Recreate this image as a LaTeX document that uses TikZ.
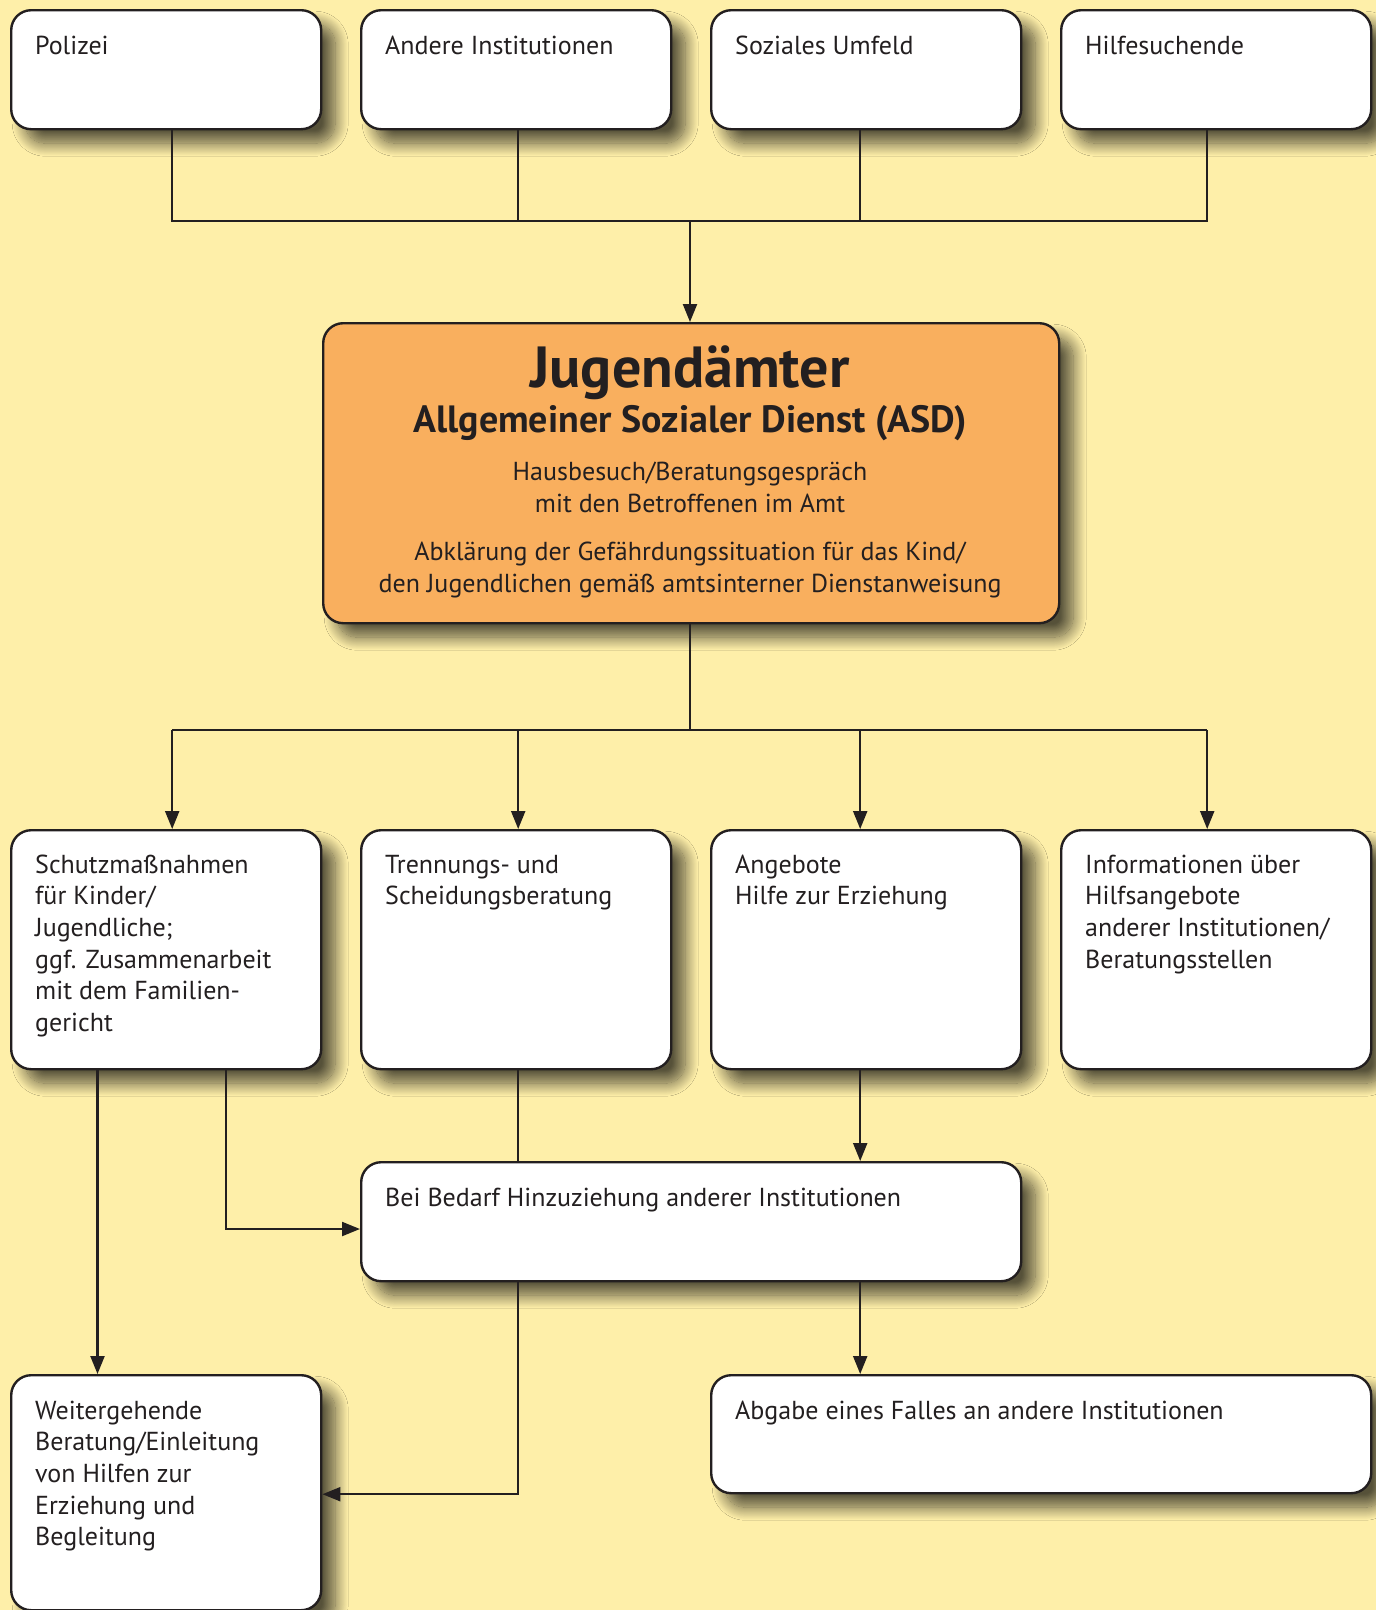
\documentclass[tikz,border=0pt]{standalone}
\usepackage{fontspec}
\setmainfont{PT Sans}
\usetikzlibrary{arrows.meta,shadows.blur,calc}
\definecolor{bgyellow}{HTML}{FEEFA9}
\definecolor{asdorange}{HTML}{F9AF5E}
\definecolor{ink}{HTML}{231F20}
% multi-line texts, aligned on the baseline of their first line
\newcommand\txtlines[1]{\begin{tabular}[t]{@{}l@{}}#1\end{tabular}}
\newcommand\ctrlines[1]{\begin{tabular}[t]{@{}c@{}}#1\end{tabular}}

\begin{document}
\begin{tikzpicture}[x=1pt,y=-1pt,
  card/.style={draw=ink, line width=2.4pt, fill=white, rounded corners=20pt,
    anchor=north west, inner sep=0pt,
    blur shadow={shadow xshift=14pt, shadow yshift=-14pt, shadow blur radius=13pt,
      shadow blur steps=20, shadow opacity=66}},
  boxtext/.style={anchor=base west, inner sep=0pt, text=ink,
    font=\fontsize{26}{31.7}\selectfont},
  midtext/.style={anchor=base, inner sep=0pt, text=ink,
    font=\fontsize{26}{31.5}\selectfont},
  conn/.style={draw=ink, line width=2.2pt},
  arr/.style={conn, -{Triangle[length=18pt,width=14pt]}},
]
\fill[bgyellow] (0,0) rectangle (1376,1610);
\useasboundingbox (0,0) rectangle (1376,1610);

% sources of a report
\node[card, minimum width=310pt, minimum height=119pt] (polizei) at (10,9) {};
\node[card, minimum width=310pt, minimum height=119pt] (andere) at (360,9) {};
\node[card, minimum width=310pt, minimum height=119pt] (umfeld) at (710,9) {};
\node[card, minimum width=310pt, minimum height=119pt] (hilfe) at (1060,9) {};
\node[boxtext] (tPolizei) at (35,54.5) {Polizei};
\node[boxtext] (tAndere) at (385,54.5) {Andere Institutionen};
\node[boxtext] (tUmfeld) at (735,54.5) {Soziales Umfeld};
\node[boxtext] (tHilfe) at (1085,54.5) {Hilfesuchende};

% youth welfare office
\node[card, fill=asdorange, minimum width=736pt, minimum height=300pt] (amt) at (322,322) {};
\node[anchor=base, inner sep=0pt, text=ink, font=\bfseries\fontsize{58}{62}\selectfont] (tAmt) at (690,387) {Jugendämter};
\node[anchor=base, inner sep=0pt, text=ink, font=\bfseries\fontsize{38}{42}\selectfont] (tAsd) at (690,432) {Allgemeiner Sozialer Dienst (ASD)};
\node[midtext] (tBesuch) at (690,480.5) {\ctrlines{Hausbesuch/Beratungsgespräch\\ mit den Betroffenen im Amt}};
\node[midtext] (tKlaer) at (690,560.7) {\ctrlines{Abklärung der Gefährdungssituation für das Kind/\\ den Jugendlichen gemäß amtsinterner Dienstanweisung}};

% measures
\node[card, minimum width=310pt, minimum height=239pt] (schutz) at (10,829) {};
\node[card, minimum width=310pt, minimum height=239pt] (trennung) at (360,829) {};
\node[card, minimum width=310pt, minimum height=239pt] (angebote) at (710,829) {};
\node[card, minimum width=310pt, minimum height=239pt] (info) at (1060,829) {};
\node[boxtext] (tSchutz) at (35,873) {\txtlines{Schutzmaßnahmen\\ für Kinder/\\ Jugendliche;\\ ggf. Zusammenarbeit\\ mit dem Familien-\\ gericht}};
\node[boxtext] (tTrennung) at (385,873) {\txtlines{Trennungs- und\\ Scheidungsberatung}};
\node[boxtext] (tAngebote) at (735,873) {\txtlines{Angebote\\ Hilfe zur Erziehung}};
\node[boxtext] (tInfo) at (1085,873) {\txtlines{Informationen über\\ Hilfsangebote\\ anderer Institutionen/\\ Beratungsstellen}};

% follow-up
\node[card, minimum width=660pt, minimum height=119pt] (bedarf) at (360,1161) {};
\node[boxtext] (tBedarf) at (385,1206.5) {Bei Bedarf Hinzuziehung anderer Institutionen};
\node[card, minimum width=310pt, minimum height=235pt] (weiter) at (10,1374) {};
\node[boxtext] (tWeiter) at (35,1419) {\txtlines{Weitergehende\\ Beratung/Einleitung\\ von Hilfen zur\\ Erziehung und\\ Begleitung}};
\node[card, minimum width=660pt, minimum height=118pt] (abgabe) at (710,1374) {};
\node[boxtext] (tAbgabe) at (735,1419) {Abgabe eines Falles an andere Institutionen};

% collecting bus above the office
\coordinate (busTop) at (690,221);
\coordinate (p1) at ([xshift=6pt]polizei.south);
\coordinate (p2) at ([xshift=2pt]andere.south);
\coordinate (p3) at ([xshift=-6pt]umfeld.south);
\coordinate (p4) at ([xshift=-9pt]hilfe.south);
\draw[conn] (p1) -- (p1 |- busTop) -- (p4 |- busTop) -- (p4);
\draw[conn] (p2) -- (p2 |- busTop);
\draw[conn] (p3) -- (p3 |- busTop);
\draw[arr] (busTop) -- (busTop |- amt.north);

% distributing bus below the office
\coordinate (busLow) at (690,730);
\draw[conn] (busLow |- amt.south) -- (busLow);
\draw[conn] (p1 |- busLow) -- (p4 |- busLow);
\draw[arr] (p1 |- busLow) -- (p1 |- schutz.north);
\draw[arr] (p2 |- busLow) -- (p2 |- trennung.north);
\draw[arr] (p3 |- busLow) -- (p3 |- angebote.north);
\draw[arr] (p4 |- busLow) -- (p4 |- info.north);

% lower connections
\coordinate (s1) at ([xshift=87.5pt]schutz.south west);
\coordinate (s2) at ([xshift=216pt]schutz.south west);
\draw[arr] (s1) -- (s1 |- weiter.north);
\draw[arr] (s2) |- ([yshift=-7.3pt]bedarf.west);
\draw[conn] (p2 |- trennung.south) -- (p2 |- bedarf.north);
\draw[arr] (p3 |- angebote.south) -- (p3 |- bedarf.north);
\coordinate (b1) at (p2 |- bedarf.south);
\draw[arr] (b1) |- ([yshift=-1.5pt]weiter.east);
\draw[arr] (p3 |- bedarf.south) -- (p3 |- abgabe.north);
\end{tikzpicture}
\end{document}
